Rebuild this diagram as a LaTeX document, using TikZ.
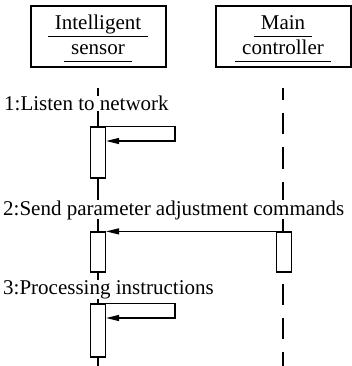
\documentclass[tikz,border=0pt]{standalone}
\usepackage{fontspec}
\setmainfont{Liberation Serif}
\usetikzlibrary{arrows.meta}

\begin{document}
\begin{tikzpicture}[
  x=1pt,y=-1pt,
  >={Triangle[length=13pt,width=6pt]},
  head/.style={draw,line width=2pt,minimum width=135pt,minimum height=61pt},
  htext/.style={inner sep=0pt,anchor=base,font=\fontsize{21}{25}\selectfont},
  ul/.style={line width=1.3pt},
  life/.style={line width=1.2pt},
  act/.style={draw,fill=white,line width=1.2pt,minimum width=15pt},
  lbl/.style={fill=white,inner sep=0pt,anchor=base west,font=\fontsize{21}{25}\selectfont},
  msg/.style={->,line width=1.2pt}
]
  \useasboundingbox (0,0) rectangle (351,366);

  \node[head] (s) at (98,37) {};
  \node[head] (m) at (283,37) {};
  \node[htext] (s1) at (98,30) {Intelligent};
  \node[htext] (s2) at (98,55) {sensor};
  \node[htext] (m1) at (283,30) {Main};
  \node[htext] (m2) at (283,55) {controller};
  \foreach \n in {s1,s2,m1,m2}
    \draw[ul] ([shift={(-7pt,-6.5pt)}]\n.base west) -- ([shift={(7pt,-6.5pt)}]\n.base east);

  \coordinate (se) at (98,366);
  \coordinate (me) at (283,366);
  \draw[life] ([yshift=-20pt]s.south) -- (se);
  \draw[life,dash pattern=on 21pt off 13pt,dash phase=9pt] ([yshift=-20pt]m.south) -- (me);

  \node[lbl] (t1) at (4,111) {1:Listen to network};
  \node[lbl] (t2) at (3,215) {2:Send parameter adjustment commands};
  \node[lbl] (t3) at (3,294) {3:Processing instructions};

  \node[act,minimum height=51pt] (a1) at (98,152.5) {};
  \node[act,minimum height=40pt] (a2) at (98,252) {};
  \node[act,minimum height=40pt] (b2) at (284,252) {};
  \node[act,minimum height=53pt] (a3) at (98,330.5) {};

  \coordinate (l1) at (175,141);
  \coordinate (l3) at (175,318);
  \draw[msg] (a1.north east) -| (l1) -- (a1.east |- l1);
  \draw[msg] (b2.north west) -- (a2.north east);
  \draw[msg] (a3.north east) -| (l3) -- (a3.east |- l3);
\end{tikzpicture}
\end{document}
